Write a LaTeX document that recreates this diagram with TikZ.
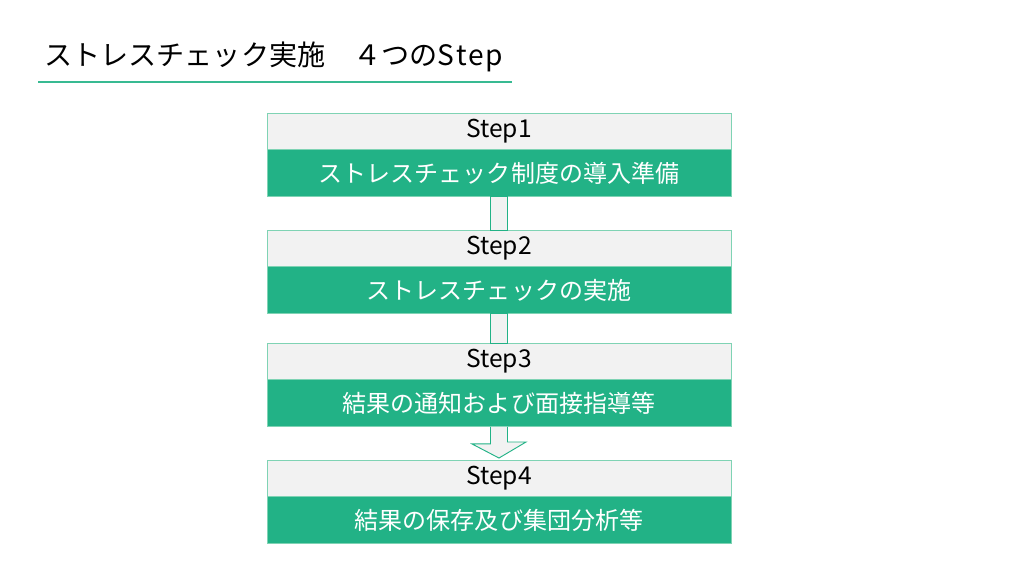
\documentclass[tikz,border=0pt]{standalone}
\usepackage{fontspec}
\setmainfont{Noto Sans CJK JP}
\usetikzlibrary{positioning,calc}
\definecolor{SCGreen}  {HTML}{22B286}
\definecolor{SCGreenLt}{HTML}{7FD3B4}
\definecolor{SCGray}   {HTML}{F2F2F2}

\begin{document}
\begin{tikzpicture}[x=0.3mm,y=-0.3mm,
  hdr/.style={draw=SCGreenLt,fill=SCGray,minimum width=139.2mm,minimum height=10.65mm,
              inner sep=0pt,font=\fontsize{21}{21}\selectfont,text=black},
  band/.style={draw=SCGreenLt,fill=SCGreen,minimum width=139.2mm,minimum height=14.25mm,
               inner sep=0pt,font=\fontsize{20.5}{20.5}\selectfont,text=white},
  shaft/.style={draw=SCGreen,fill=SCGray,line width=0.8pt}
]
  \useasboundingbox (0,0) rectangle (1024,576);

  % Title
  \node[anchor=west,inner sep=0pt,font=\fontsize{24}{24}\selectfont] (ttl) at (44,57)
    {ストレスチェック実施\hspace{1em}４つのS\hspace{0.06em}t\hspace{0.06em}e\hspace{0.06em}p};
  \coordinate (ul) at (38,82);
  \draw[SCGreen!90,line width=2.4pt] (ul) -- ++(474,0);

  % Steps
  \node[hdr]  (s1h) at (499,131) {Step1};
  \node[band,below=0pt of s1h] (s1b) {ストレスチェック制度の導入準備};
  \node[hdr]  (s2h) at (499,248) {Step2};
  \node[band,below=0pt of s2h] (s2b) {ストレスチェックの実施};
  \node[hdr]  (s3h) at (499,361) {Step3};
  \node[band,below=0pt of s3h] (s3b) {結果の通知および面接指導等};
  \node[hdr]  (s4h) at (499,478) {Step4};
  \node[band,below=0pt of s4h] (s4b) {結果の保存及び集団分析等};

  % Connectors
  \draw[shaft] ($(s1b.south)+(-8.5,0)$) rectangle ($(s2h.north)+(8.5,0)$);
  \draw[shaft] ($(s2b.south)+(-8.5,0)$) rectangle ($(s3h.north)+(8.5,0)$);
  \draw[shaft] ($(s3b.south)+(-8.5,0)$) -- ++(0,17) -- ++(-18.5,0)
    -- ($(s4h.north)+(0,-2)$) -- ++(27,-16) -- ++(-18.5,0) -- ($(s3b.south)+(8.5,0)$);
\end{tikzpicture}
\end{document}
